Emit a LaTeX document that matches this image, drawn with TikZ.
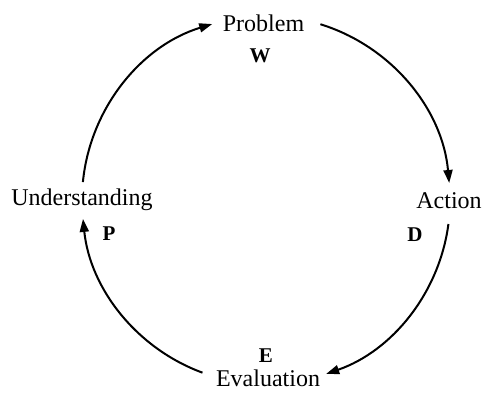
\documentclass[tikz,border=0pt]{standalone}
\usepackage{fontspec}
\setmainfont{Liberation Serif}
\usetikzlibrary{arrows.meta}
\tikzset{
  lbl/.style={inner sep=0pt, anchor=base, font=\fontsize{24}{28}\selectfont},
  letter/.style={inner sep=0pt, anchor=base, font=\fontsize{21}{24}\selectfont\bfseries},
  cyc/.style={line width=2pt, -{Triangle[length=13pt,width=9pt]}}
}
\begin{document}
\begin{tikzpicture}[x=1pt,y=1pt]
\useasboundingbox (0,0) rectangle (482,392);
\coordinate (c) at (266,192);
% labels
\node[lbl] (prob) at (263.5,360) {Problem};
\node[letter] (w) at (260,330) {W};
\node[lbl] (act) at (449,184) {Action};
\node[letter] (d) at (415,151) {D};
\node[lbl] (und) at (82,187) {Understanding};
\node[letter] (p) at (109,152) {P};
\node[letter] (e) at (266,30) {E};
\node[lbl] (eva) at (268,6) {Evaluation};
% arc end points
\coordinate (s1) at ([shift={(174.4:184)}]c);
\coordinate (s2) at ([shift={(72.8:184)}]c);
\coordinate (s3) at ([shift={(-7.5:184)}]c);
\coordinate (s4) at ([shift={(-110.2:184)}]c);
% arcs
\draw[cyc] (s1) arc[start angle=174.4, end angle=107, radius=184];
\draw[cyc] (s2) arc[start angle=72.8, end angle=5.3, radius=184];
\draw[cyc] (s3) arc[start angle=-7.5, end angle=-70.9, radius=184];
\draw[cyc] (s4) arc[start angle=-110.2, end angle=-174.1, radius=184];
\end{tikzpicture}
\end{document}
